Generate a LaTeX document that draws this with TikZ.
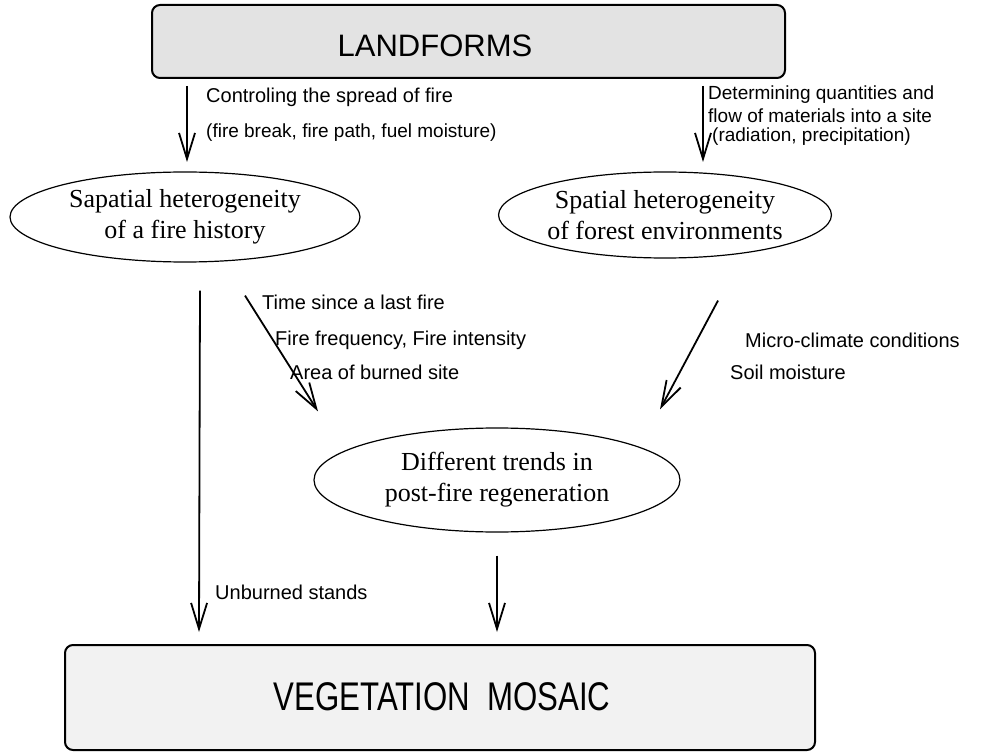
\documentclass[tikz,border=0pt]{standalone}
\usepackage{fontspec}
\setmainfont{Liberation Serif}
\setsansfont{Liberation Sans}
\usetikzlibrary{arrows.meta,shapes.geometric,calc}
\begin{document}
\begin{tikzpicture}[x=1pt,y=-1pt,
  lbl/.style={font=\sffamily\fontsize{20}{24}\selectfont,anchor=west,inner sep=0},
  slbl/.style={font=\sffamily\fontsize{19}{22}\selectfont,anchor=west,inner sep=0},
  ell/.style={draw,ellipse,line width=1.2pt,inner sep=0,font=\rmfamily\fontsize{26}{31}\selectfont,align=center},
  arr/.style={line width=1.8pt,-{Straight Barb[length=26pt,width=16pt,line width=1.8pt]}},
  bigbox/.style={draw,line width=2pt,rounded corners=8pt,inner sep=0}]
\useasboundingbox (0,0) rectangle (989,754);
% boxes
\node[bigbox,fill=gray!22,minimum width=633pt,minimum height=73pt] (land) at (468.5,41.5) {};
\node[font=\sffamily\fontsize{31}{31}\selectfont,inner sep=0] (landtxt) at (435,46) {LANDFORMS};
\node[bigbox,fill=gray!10,minimum width=750pt,minimum height=105pt] (veg) at (440,697.5) {};
\node[font=\sffamily\fontsize{40}{40}\selectfont,inner sep=0] (vegtxt) at (442,697) {\scalebox{0.78}[1]{VEGETATION\ \ MOSAIC}};
% ellipses
\node[ell,minimum width=350pt,minimum height=90pt] (fh) at (185,217) {Sapatial heterogeneity\\of a fire history};
\node[ell,minimum width=300pt,minimum height=86pt] (fe) at (665,215) {Spatial heterogeneity\\of forest environments};
\node[ell,minimum width=366pt,minimum height=104pt] (tr) at (497,480) {Different trends in\\post-fire regeneration};
% arrows
\draw[arr] (land.south west) ++(36,7) -- ++(0,76);
\draw[arr] (land.south east) ++(-83,7) -- ++(0,76);
\draw[arr] ($(fh.south)+(15,28)$) -- ($(veg.north west)+(135,-12)$);
\draw[arr] ($(fh.south)+(60,33)$) -- ($(tr.north)+(-179,-16)$);
\draw[arr] ($(fe.south)+(53,42)$) -- ($(tr.north)+(163,-18)$);
\draw[arr] ($(tr.south)+(0,23)$) -- ($(veg.north)+(57,-12)$);
% labels
\node[lbl] (l1) at (206,97) {Controling the spread of fire};
\node[slbl] (l2) at (206,133) {(fire break, fire path, fuel moisture)};
\node[slbl] (r1) at (708,95) {Determining quantities and};
\node[slbl] (r2) at (708,115.5) {flow of materials into a site};
\node[slbl] (r3) at (712,137) {(radiation, precipitation)};
\node[lbl] (m1) at (262,302) {Time since a last fire};
\node[lbl] (m2) at (275,340) {Fire frequency, Fire intensity};
\node[lbl] (m3) at (290,372) {Area of burned site};
\node[lbl] (s1) at (745,340) {Micro-climate conditions};
\node[lbl] (s2) at (730,372) {Soil moisture};
\node[lbl] (u1) at (215,592) {Unburned stands};
\end{tikzpicture}
\end{document}
